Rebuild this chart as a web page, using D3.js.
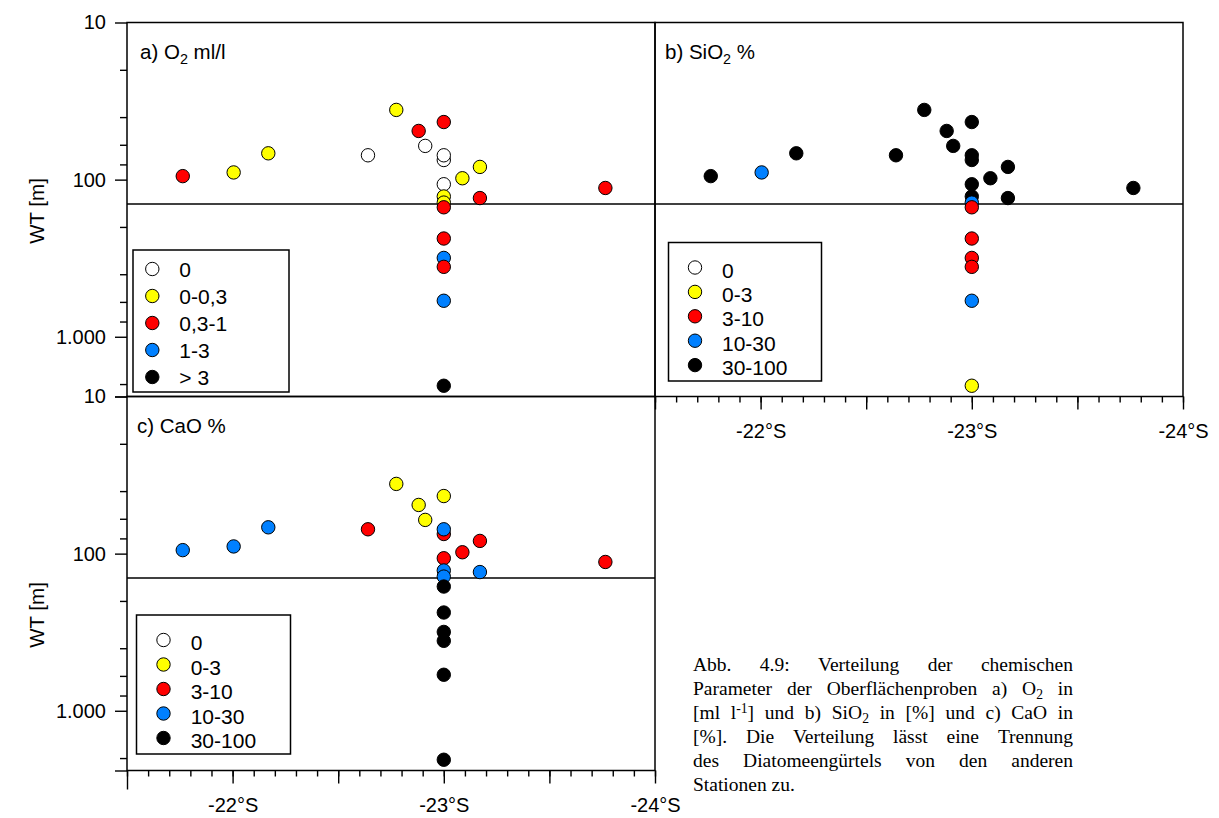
<!DOCTYPE html>
<html>
<head>
<meta charset="utf-8">
<script src="https://cdn.jsdelivr.net/npm/d3@7"></script>
<style>
  body { margin: 0; background: #fff; }
  svg text { font-family: "Liberation Sans", Arial, sans-serif; fill: #000; }
</style>
</head>
<body>
<svg id="chart" width="1219" height="818"></svg>
<script>
// stations: latitude (°S) and water depth WT [m]
const lat      = [-21.764, -22.005, -22.169, -22.641, -22.775, -22.881, -22.912, -23.0, -23.0, -23.0, -23.171, -23.088,
                  -23.0, -23.0, -23.171, -23.0, -23.0, -23.765, -23.0, -23.0, -23.0, -23.0, -23.0];
const depth    = [95, 90, 68, 70, 36, 49, 61, 43, 75, 70, 83, 98, 107, 128, 131, 140, 150, 113, 237, 315, 359, 590, 2050];
const depthCaO = [95, 90, 68, 70, 36, 49, 61, 43, 75, 70, 83, 98, 107, 128, 131, 140, 162, 113, 237, 315, 359, 590, 2050];

// class of each station (0 .. 4) for the three parameters
const classO2   = [2, 1, 1, 0, 1, 2, 0, 2, 0, 0, 1, 1, 0, 1, 2, 1, 2, 2, 2, 3, 2, 3, 4];
const classSiO2 = [4, 3, 4, 4, 4, 4, 4, 4, 4, 4, 4, 4, 4, 4, 4, 3, 2, 4, 2, 2, 2, 3, 1];
const classCaO  = [3, 3, 3, 2, 1, 1, 1, 1, 2, 3, 2, 2, 2, 3, 3, 3, 4, 2, 4, 4, 4, 4, 4];

const classColors = ['#ffffff', '#ffff00', '#ff0000', '#0080ff', '#000000'];
const legendO2  = ['0', '0-0,3', '0,3-1', '1-3', '> 3'];
const legendPct = ['0', '0-3', '3-10', '10-30', '30-100'];

const xTicksMajor = [-21.5, -22, -22.5, -23, -23.5, -24];
const xTickLabels = [-22, -23, -24];
const yTicksMajor = [10, 100, 1000, 2400];
const yTickLabels = [10, 100, 1000];
const yTicksMinor = [20, 40, 60, 80, 200, 400, 600, 800, 2000];
const boundaryDepth = 143;

const noteLines = [
  'Abb. 4.9: Verteilung der chemischen',
  'Parameter der Oberflächenproben a) O_{2} in',
  '[ml l^{-1}] und b) SiO_{2} in [%] und c) CaO in',
  '[%]. Die Verteilung lässt eine Trennung',
  'des Diatomeengürtels von den anderen',
  'Stationen zu.'
];

const W = 528, H = 374;
const svg = d3.select('#chart');

const de = d3.formatLocale({ decimal: ',', thousands: '.', grouping: [3], currency: ['', ' €'] });
const fmtDepth = de.format(',');

const x = d3.scaleLinear().domain([-21.5, -24]).range([0, W]);
const y = d3.scaleLog().domain([10, 2400]).range([0, H]);

// text with _{sub} and ^{sup} parts
function addRich(sel, str, size, sub = 0.28, sup = 0.38) {
  const parts = str.split(/(_\{[^}]*\}|\^\{[^}]*\})/).filter(s => s.length);
  let shift = 0;
  parts.forEach(p => {
    let t = p, target = 0, small = false;
    if (p.startsWith('_{')) { t = p.slice(2, -1); target = size * sub; small = true; }
    else if (p.startsWith('^{')) { t = p.slice(2, -1); target = -size * sup; small = true; }
    const ts = sel.append('tspan').text(t).attr('dy', target - shift);
    if (small) ts.attr('font-size', size * 0.7);
    shift = target;
  });
}

const panels = [
  { x0: 127, y0: 22.5, title: 'a) O_{2} ml/l', tx: 13, cls: classO2, dep: depth, legend: legendO2,
    leg: { x: 133, y: 250, w: 156, h: 142, cx: 19.3, tx: 46.3, row0: 19, step: 27, dy: 8 },
    yAxis: true, xAxis: false, label: 211 },
  { x0: 655, y0: 22.5, title: 'b) SiO_{2} %', tx: 10, cls: classSiO2, dep: depth, legend: legendPct,
    leg: { x: 668.5, y: 242.5, w: 153, h: 138.5, cx: 26.5, tx: 53.5, row0: 25, step: 24.4, dy: 10 },
    yAxis: false, xAxis: true },
  { x0: 127, y0: 396.5, title: 'c) CaO %', tx: 10, cls: classCaO, dep: depthCaO, legend: legendPct,
    leg: { x: 136.5, y: 615, w: 154, h: 139, cx: 27, tx: 54.2, row0: 25, step: 24.5, dy: 10 },
    yAxis: true, xAxis: true, label: 615, longFirstTick: true }
];

panels.forEach(p => {
  const g = svg.append('g').attr('transform', `translate(${p.x0},${p.y0})`);

  // boundary line of the diatom belt
  g.append('line')
    .attr('x1', 0).attr('x2', W)
    .attr('y1', y(boundaryDepth)).attr('y2', y(boundaryDepth))
    .attr('stroke', '#000').attr('stroke-width', 1.5);

  // stations
  g.append('g').selectAll('circle')
    .data(lat.map((la, i) => ({ la, d: p.dep[i], c: p.cls[i] })))
    .join('circle')
    .attr('cx', d => x(d.la))
    .attr('cy', d => y(d.d))
    .attr('r', 6.7)
    .attr('fill', d => classColors[d.c])
    .attr('stroke', '#000')
    .attr('stroke-width', 1);

  // frame
  g.append('rect')
    .attr('width', W).attr('height', H)
    .attr('fill', 'none').attr('stroke', '#000').attr('stroke-width', 1.5);

  // title
  const t = g.append('text').attr('x', p.tx).attr('y', 36).attr('font-size', 20.5);
  addRich(t, p.title, 20.5);

  if (p.yAxis) {
    g.append('g')
      .call(d3.axisLeft(y).tickValues(yTicksMajor).tickSize(12).tickPadding(9)
        .tickFormat(d => yTickLabels.includes(d) ? fmtDepth(d) : ''))
      .call(a => a.select('.domain').remove())
      .call(a => a.selectAll('text').attr('font-size', 20).attr('font-family', null))
      .call(a => a.selectAll('line').attr('stroke-width', 1.4));
    g.append('g')
      .call(d3.axisLeft(y).tickValues(yTicksMinor).tickSize(7).tickFormat(''))
      .call(a => a.select('.domain').remove())
      .call(a => a.selectAll('line').attr('stroke-width', 1.4));

    svg.append('text')
      .attr('transform', `translate(44,${p.label}) rotate(-90)`)
      .attr('text-anchor', 'middle')
      .attr('font-size', 20.5)
      .text('WT [m]');
  }

  if (p.xAxis) {
    const xa = g.append('g').attr('transform', `translate(0,${H})`);
    xa.call(d3.axisBottom(x).tickValues(xTicksMajor).tickSize(13).tickPadding(14)
        .tickFormat(d => xTickLabels.includes(d) ? `${d}°S` : ''))
      .call(a => a.select('.domain').remove())
      .call(a => a.selectAll('text').attr('font-size', 20).attr('font-family', null))
      .call(a => a.selectAll('line').attr('stroke-width', 1.4));
    if (p.longFirstTick) xa.select('.tick line').attr('y2', 19);
    g.append('g').attr('transform', `translate(0,${H})`)
      .call(d3.axisBottom(x).tickValues(d3.range(0, 26).map(k => -21.5 - k / 10)).tickSize(6).tickFormat(''))
      .call(a => a.select('.domain').remove())
      .call(a => a.selectAll('line').attr('stroke-width', 1.4));
  }

  // legend
  const L = p.leg;
  const lg = svg.append('g').attr('transform', `translate(${L.x},${L.y})`);
  lg.append('rect').attr('width', L.w).attr('height', L.h)
    .attr('fill', '#fff').attr('stroke', '#000').attr('stroke-width', 1.5);
  const rows = lg.selectAll('g.row').data(p.legend).join('g')
    .attr('class', 'row')
    .attr('transform', (d, i) => `translate(0,${L.row0 + i * L.step})`);
  rows.append('circle').attr('cx', L.cx).attr('r', 6.7)
    .attr('fill', (d, i) => classColors[i]).attr('stroke', '#000').attr('stroke-width', 1);
  rows.append('text').attr('x', L.tx).attr('y', L.dy).attr('font-size', 21).text(d => d);
});

// caption, justified
const noteLeft = 693, noteRight = 1073, noteTop = 671, noteStep = 24, noteSize = 19.5;
const note = svg.append('g');
noteLines.forEach((line, i) => {
  const words = line.split(' ');
  const nodes = words.map(w => {
    const t = note.append('text')
      .attr('y', noteTop + i * noteStep)
      .attr('font-size', noteSize)
      .style('font-family', '"Liberation Serif", "Times New Roman", serif');
    addRich(t, w, noteSize, 0.2, 0.32);
    return t;
  });
  const widths = nodes.map(t => t.node().getComputedTextLength());
  const last = i === noteLines.length - 1;
  const gap = last ? noteSize * 0.25 : (noteRight - noteLeft - d3.sum(widths)) / (words.length - 1);
  let cx = noteLeft;
  nodes.forEach((t, k) => { t.attr('x', cx); cx += widths[k] + gap; });
});
</script>
</body>
</html>
